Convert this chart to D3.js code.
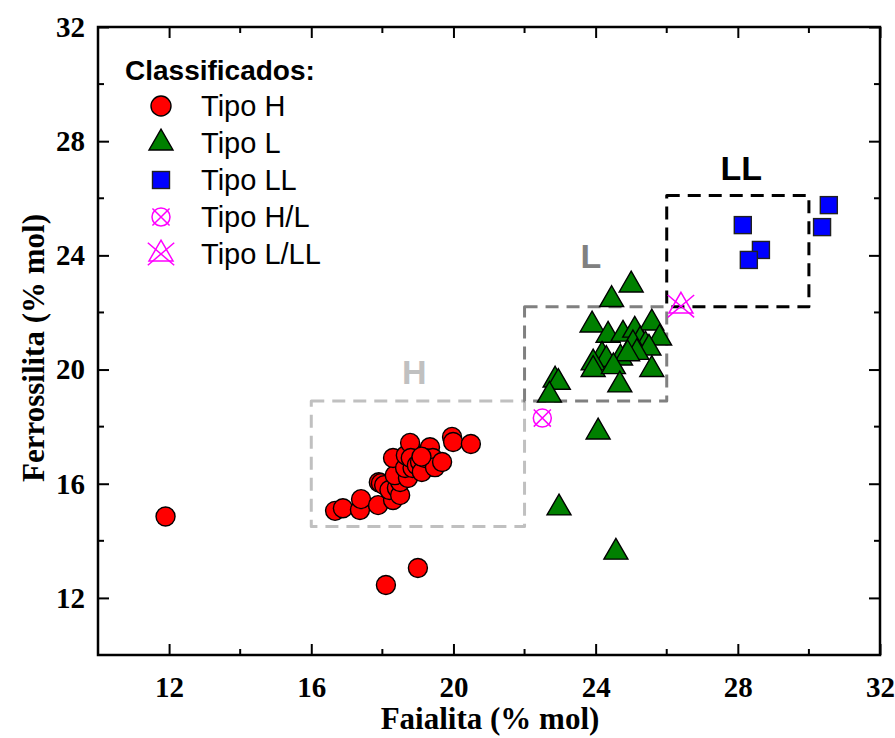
<!DOCTYPE html>
<html>
<head>
<meta charset="utf-8">
<script src="https://cdn.jsdelivr.net/npm/d3@7/dist/d3.min.js"></script>
<style>
  html, body { margin: 0; padding: 0; background: #fff; }
  svg { display: block; }
</style>
</head>
<body>
<svg id="chart" width="895" height="738"></svg>
<script>
// Faialita (x) vs Ferrossilita (y), both in % mol
const tipoH = [
  [11.9, 14.85], [18.1, 12.45], [19.0, 13.05],
  [16.67, 15.05], [16.89, 15.14], [17.37, 15.08], [17.4, 15.46], [17.88, 15.25],
  [18.3, 15.43], [17.9, 16.05], [17.96, 16.02], [18.05, 15.95], [18.2, 15.78],
  [18.41, 15.85], [18.5, 15.6], [18.5, 16.06], [18.35, 16.3], [18.72, 16.2],
  [18.3, 16.9], [18.64, 16.55], [18.85, 16.55], [18.66, 17.0], [18.78, 17.43],
  [18.8, 16.9], [18.97, 16.65], [19.06, 16.76], [19.11, 16.41], [19.25, 17.1],
  [19.34, 17.28], [19.2, 16.9], [19.42, 16.9], [19.48, 16.58], [19.68, 16.76],
  [19.1, 16.95], [19.96, 17.64], [19.99, 17.46], [20.49, 17.39]
];
const tipoL = [
  [25.0, 22.96], [24.45, 22.45], [23.9, 21.56], [24.35, 21.2], [24.77, 21.24],
  [25.1, 21.38], [25.58, 21.63], [25.8, 21.1], [25.25, 21.03], [25.4, 20.86],
  [25.05, 20.9], [25.5, 20.75], [25.16, 20.6], [24.18, 20.5], [24.3, 20.35],
  [24.7, 20.4], [24.9, 20.55], [23.93, 20.23], [23.93, 20.0], [24.5, 20.1],
  [25.58, 20.0], [24.68, 19.46], [22.86, 19.63], [22.95, 19.55], [22.7, 19.1],
  [24.07, 17.81], [22.97, 15.15], [24.57, 13.6]
];
const tipoLL = [[28.14, 25.06], [28.65, 24.19], [28.31, 23.84], [30.56, 25.76], [30.37, 24.99]];
const tipoHL = [[22.5, 18.3]];
const tipoLLL = [[26.4, 22.22]];

// Classification fields: fa range and fs range for each chondrite group
const regionNames = ["H", "L", "LL"];
const regionFa = [[16, 22], [22, 26], [26, 30]];
const regionFs = [[14.5, 18.9], [18.9, 22.2], [22.2, 26.1]];
const regionLabelAt = [[18.9, 19.5], [23.87, 23.55], [28.1, 26.64]];

const xTicks = [12, 16, 20, 24, 28, 32];
const yTicks = [12, 16, 20, 24, 28, 32];
const xMinor = [14, 18, 22, 26, 30];
const yMinor = [14, 18, 22, 26, 30];

const legendLabels = ["Tipo H", "Tipo L", "Tipo LL", "Tipo H/L", "Tipo L/LL"];

const W = 895, H = 738;
const m = { left: 98, right: 15, top: 27, bottom: 83 };
const iw = W - m.left - m.right, ih = H - m.top - m.bottom;

const svg = d3.select("#chart");
const g = svg.append("g").attr("transform", `translate(${m.left},${m.top})`);

const x = d3.scaleLinear().domain([10, 32]).range([0, iw]);
const y = d3.scaleLinear().domain([10, 32]).range([ih, 0]);

// classification boxes
const regionColors = ["#c0c0c0", "#808080", "#000000"];
regionNames.forEach((name, i) => {
  g.append("rect")
    .attr("x", x(regionFa[i][0])).attr("y", y(regionFs[i][1]))
    .attr("width", x(regionFa[i][1]) - x(regionFa[i][0]))
    .attr("height", y(regionFs[i][0]) - y(regionFs[i][1]))
    .attr("fill", "none").attr("stroke", regionColors[i])
    .attr("stroke-width", 3).attr("stroke-dasharray", "13,8")
    .attr("stroke-linejoin", "round");
  g.append("text")
    .attr("x", x(regionLabelAt[i][0])).attr("y", y(regionLabelAt[i][1]))
    .attr("text-anchor", "middle")
    .attr("font-family", "Liberation Sans, Arial, sans-serif")
    .attr("font-weight", "bold").attr("font-size", 34)
    .attr("fill", regionColors[i]).text(name);
});

// marker shapes
const triPath = (s) => {
  const h = s * Math.sqrt(3) / 2;
  return `M0,${-2 * h / 3}L${s / 2},${h / 3}L${-s / 2},${h / 3}Z`;
};

function drawCircle(sel, r) {
  sel.append("circle").attr("r", r).attr("fill", "#ff0000")
    .attr("stroke", "#000").attr("stroke-width", 1.4);
}
function drawTriangle(sel, s) {
  sel.append("path").attr("d", triPath(s)).attr("fill", "#008000")
    .attr("stroke", "#000").attr("stroke-width", 1.4).attr("stroke-linejoin", "miter");
}
function drawSquare(sel, s) {
  sel.append("rect").attr("x", -s / 2).attr("y", -s / 2).attr("width", s).attr("height", s)
    .attr("fill", "#0000ff").attr("stroke", "#202020").attr("stroke-width", 1.4);
}
function drawCircleX(sel, r) {
  sel.append("circle").attr("r", r).attr("fill", "none")
    .attr("stroke", "#ff00ff").attr("stroke-width", 1.5);
  const d = r * 0.95;
  sel.append("path").attr("d", `M${-d},${-d}L${d},${d}M${d},${-d}L${-d},${d}`)
    .attr("stroke", "#ff00ff").attr("stroke-width", 1.5);
}
function drawTriX(sel, s) {
  sel.append("path").attr("d", triPath(s)).attr("fill", "none")
    .attr("stroke", "#ff00ff").attr("stroke-width", 1.5);
  const d = s * 0.55;
  sel.append("path").attr("d", `M${-d},${-d * 0.85}L${d},${d * 0.85}M${d},${-d * 0.85}L${-d},${d * 0.85}`)
    .attr("stroke", "#ff00ff").attr("stroke-width", 1.5);
}

function plotSeries(data, drawer, size) {
  g.append("g").selectAll("g").data(data).join("g")
    .attr("transform", d => `translate(${x(d[0])},${y(d[1])})`)
    .each(function () { drawer(d3.select(this), size); });
}

plotSeries(tipoH, drawCircle, 9.5);
plotSeries(tipoL, drawTriangle, 24);
plotSeries(tipoLL, drawSquare, 17);
plotSeries(tipoHL, drawCircleX, 9);
plotSeries(tipoLLL, drawTriX, 24);

// frame and axes
const serif = "Liberation Serif, Times New Roman, serif";
g.append("rect").attr("width", iw).attr("height", ih).attr("fill", "none")
  .attr("stroke", "#000").attr("stroke-width", 2.5);

const axisBottom = d3.axisBottom(x).tickValues(xTicks).tickSize(-11).tickPadding(21).tickFormat(d3.format("d"));
const axisLeft = d3.axisLeft(y).tickValues(yTicks).tickSize(-11).tickPadding(13).tickFormat(d3.format("d"));
const axisTop = d3.axisTop(x).tickValues(xTicks).tickSize(-11).tickFormat("");
const axisRight = d3.axisRight(y).tickValues(yTicks).tickSize(-11).tickFormat("");

function styleAxis(sel) {
  sel.select(".domain").remove();
  sel.selectAll(".tick line").attr("stroke", "#000").attr("stroke-width", 2);
  sel.selectAll("text").attr("font-family", serif).attr("font-weight", "bold")
    .attr("font-size", 29).attr("fill", "#000");
}
g.append("g").attr("transform", `translate(0,${ih})`).call(axisBottom).call(styleAxis);
g.append("g").call(axisLeft).call(styleAxis);
g.append("g").call(axisTop).call(styleAxis);
g.append("g").attr("transform", `translate(${iw},0)`).call(axisRight).call(styleAxis);

// minor ticks
const minorLen = 6;
const minorStyle = sel => sel.attr("stroke", "#000").attr("stroke-width", 2);
g.append("g").selectAll("line").data(xMinor).join("line")
  .attr("x1", d => x(d)).attr("x2", d => x(d)).attr("y1", ih).attr("y2", ih - minorLen).call(minorStyle);
g.append("g").selectAll("line").data(xMinor).join("line")
  .attr("x1", d => x(d)).attr("x2", d => x(d)).attr("y1", 0).attr("y2", minorLen).call(minorStyle);
g.append("g").selectAll("line").data(yMinor).join("line")
  .attr("x1", 0).attr("x2", minorLen).attr("y1", d => y(d)).attr("y2", d => y(d)).call(minorStyle);
g.append("g").selectAll("line").data(yMinor).join("line")
  .attr("x1", iw).attr("x2", iw - minorLen).attr("y1", d => y(d)).attr("y2", d => y(d)).call(minorStyle);

// axis titles
svg.append("text").attr("x", 490).attr("y", 729)
  .attr("text-anchor", "middle").attr("font-family", serif).attr("font-weight", "bold")
  .attr("font-size", 31).text("Faialita (% mol)");
svg.append("text").attr("transform", `translate(44,348) rotate(-90)`)
  .attr("text-anchor", "middle").attr("font-family", serif).attr("font-weight", "bold")
  .attr("font-size", 31).text("Ferrossilita (% mol)");

// legend
const sans = "Liberation Sans, Arial, sans-serif";
const leg = svg.append("g");
leg.append("text").attr("x", 125).attr("y", 80).attr("font-family", sans)
  .attr("font-weight", "bold").attr("font-size", 28).text("Classificados:");
const legendDrawers = [
  s => drawCircle(s, 10), s => drawTriangle(s, 24), s => drawSquare(s, 17),
  s => drawCircleX(s, 9), s => drawTriX(s, 24)
];
const legendY = d3.scalePoint().domain(legendLabels).range([106, 254]);
legendLabels.forEach((lab, i) => {
  const row = leg.append("g").attr("transform", `translate(0,${legendY(lab)})`);
  legendDrawers[i](row.append("g").attr("transform", "translate(161,0)"));
  row.append("text").attr("x", 201).attr("y", 10).attr("font-family", sans)
    .attr("font-size", 29).text(lab);
});
</script>
</body>
</html>
